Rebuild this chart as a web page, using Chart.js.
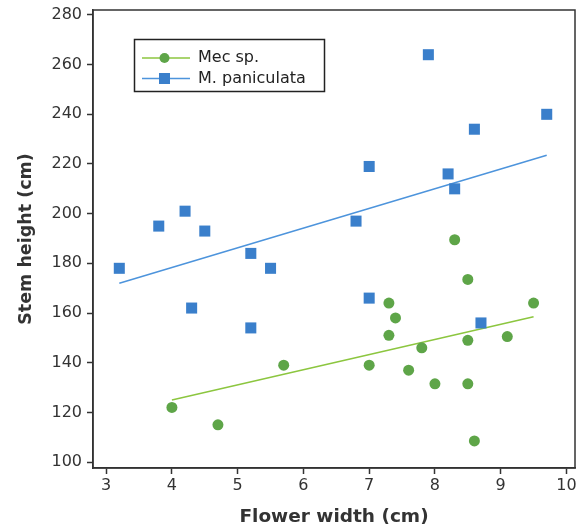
<!DOCTYPE html>
<html>
<head>
<meta charset="utf-8">
<script src="https://cdn.jsdelivr.net/npm/chart.js@4/dist/chart.umd.min.js"></script>
<style>
html,body{margin:0;padding:0;background:#fff;}
#wrap{width:577px;height:532px;position:relative;}
</style>
</head>
<body>
<div id="wrap"><canvas id="c" width="577" height="532"></canvas></div>
<script>
const seriesNames = ["Mec sp.", "M. paniculata"];
const mecX = [4.0, 4.7, 5.7, 7.0, 7.3, 7.4, 7.3, 7.6, 7.8, 8.0, 8.3, 8.5, 8.5, 8.5, 8.6, 9.1, 9.5];
const mecY = [122, 115, 139, 139, 164, 158, 151, 137, 146, 131.5, 189.5, 173.5, 149, 131.5, 108.5, 150.5, 164];
const panX = [3.2, 3.8, 4.2, 4.3, 4.5, 5.2, 5.2, 5.5, 6.8, 7.0, 7.0, 7.9, 8.2, 8.3, 8.6, 8.7, 9.7];
const panY = [178, 195, 201, 162, 193, 184, 154, 178, 197, 219, 166, 264, 216, 210, 234, 156, 240];
const mecTrendX = [4.0, 9.5];
const mecTrendY = [125, 158.5];
const panTrendX = [3.2, 9.7];
const panTrendY = [172, 223.5];
const xTicks = [3, 4, 5, 6, 7, 8, 9, 10];
const yTicks = [100, 120, 140, 160, 180, 200, 220, 240, 260, 280];

const GREEN = '#5ea548';
const GREEN_LINE = '#8cc63f';
const BLUE = '#3a7fcb';
const BLUE_LINE = '#4d94dc';
const AXIS = '#333333';
const FONT = "'DejaVu Sans', Verdana, sans-serif";

const pts = (xs, ys) => xs.map((x, i) => ({x: x, y: ys[i]}));

// keep plot area right edge at 575 regardless of tick-label padding
const fixArea = {
  id: 'fixArea',
  afterLayout(chart) {
    const a = chart.chartArea, x = chart.scales.x, R = 575;
    a.right = R; a.width = R - a.left;
    x.right = R; x.width = R - x.left;
    x.configure();
  }
};

const frame = {
  id: 'frame',
  afterDraw(chart) {
    const a = chart.chartArea, ctx = chart.ctx;
    ctx.save();
    ctx.strokeStyle = AXIS;
    ctx.lineWidth = 1.5;
    ctx.strokeRect(a.left, a.top, a.right - a.left, a.bottom - a.top);
    // legend
    const bx = 134.5, by = 39.5, bw = 190, bh = 52;
    ctx.fillStyle = '#fff';
    ctx.fillRect(bx, by, bw, bh);
    ctx.strokeStyle = '#222';
    ctx.lineWidth = 1.5;
    ctx.strokeRect(bx, by, bw, bh);
    const rows = [
      {name: seriesNames[0], line: GREEN_LINE, fill: GREEN, shape: 'circle', y: 58},
      {name: seriesNames[1], line: BLUE_LINE, fill: BLUE, shape: 'rect', y: 78.5}
    ];
    rows.forEach(r => {
      ctx.strokeStyle = r.line; ctx.lineWidth = 1.5;
      ctx.beginPath(); ctx.moveTo(142, r.y); ctx.lineTo(190, r.y); ctx.stroke();
      ctx.fillStyle = r.fill;
      if (r.shape === 'circle') { ctx.beginPath(); ctx.arc(164.5, r.y, 5, 0, Math.PI*2); ctx.fill(); }
      else { ctx.fillRect(159, r.y - 5.5, 11, 11); }
      ctx.fillStyle = '#222';
      ctx.font = "16px " + FONT;
      ctx.textBaseline = 'middle';
      ctx.textAlign = 'left';
      ctx.fillText(r.name, 198, r.y);
    });
    ctx.restore();
  }
};

new Chart(document.getElementById('c'), {
  type: 'scatter',
  data: {
    datasets: [
      {label: seriesNames[0] + ' trend', type: 'line', data: pts(mecTrendX, mecTrendY), borderColor: GREEN_LINE, borderWidth: 1.5, pointRadius: 0, fill: false, order: 3},
      {label: seriesNames[1] + ' trend', type: 'line', data: pts(panTrendX, panTrendY), borderColor: BLUE_LINE, borderWidth: 1.5, pointRadius: 0, fill: false, order: 3},
      {label: seriesNames[0], data: pts(mecX, mecY), pointStyle: 'circle', pointRadius: 5.5, backgroundColor: GREEN, borderWidth: 0, order: 1},
      {label: seriesNames[1], data: pts(panX, panY), pointStyle: 'rect', pointRadius: 7.8, backgroundColor: BLUE, borderWidth: 0, order: 2}
    ]
  },
  options: {
    responsive: false,
    animation: false,
    layout: {padding: {top: 10, right: 2, left: 0, bottom: 0}},
    plugins: {legend: {display: false}, tooltip: {enabled: false}},
    scales: {
      x: {
        type: 'linear', min: 2.8, max: 10.13,
        afterBuildTicks: ax => { ax.ticks = xTicks.map(v => ({value: v})); },
        afterFit: ax => { ax.height = 64; ax.paddingLeft = 0; ax.paddingRight = 0; },
        grid: {drawOnChartArea: false, drawTicks: true, tickLength: 6, tickColor: AXIS, tickWidth: 1.5},
        border: {display: true, color: AXIS, width: 1.5},
        ticks: {color: '#333', font: {family: FONT, size: 16}, padding: 2, autoSkip: false, maxRotation: 0},
        title: {display: true, text: 'Flower width (cm)', color: '#333', font: {family: FONT, size: 18.5, weight: 'bold'}, padding: {top: 1}}
      },
      y: {
        type: 'linear', min: 97.6, max: 282,
        afterBuildTicks: ax => { ax.ticks = yTicks.map(v => ({value: v})); },
        afterFit: ax => { ax.width = 93; ax.paddingTop = 0; ax.paddingBottom = 0; },
        grid: {drawOnChartArea: false, drawTicks: true, tickLength: 6, tickColor: AXIS, tickWidth: 1.5},
        border: {display: true, color: AXIS, width: 1.5},
        ticks: {color: '#333', font: {family: FONT, size: 16}, padding: 5},
        title: {display: true, text: 'Stem height (cm)', color: '#333', font: {family: FONT, size: 17.5, weight: 'bold'}, padding: {top: 16}}
      }
    }
  },
  plugins: [fixArea, frame]
});
</script>
</body>
</html>
